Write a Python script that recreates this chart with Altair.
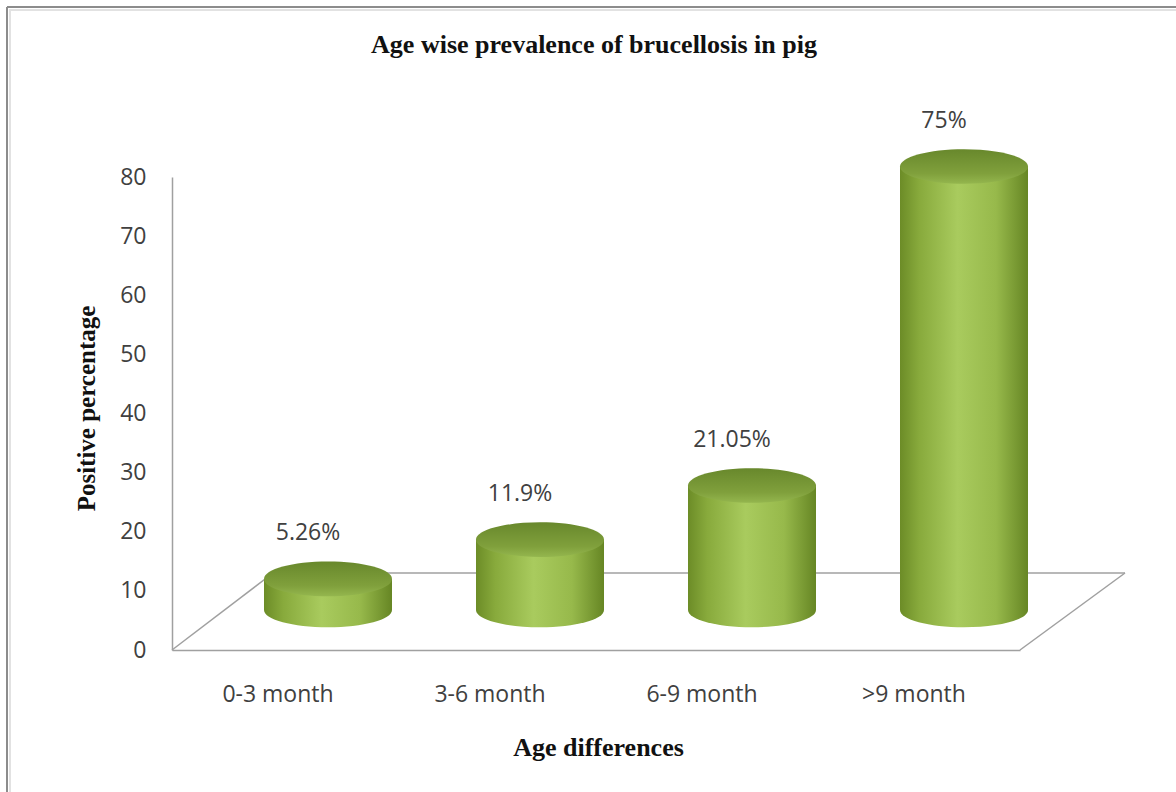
import altair as alt
import pandas as pd

# Age-wise brucellosis prevalence in pigs
age_groups = ["0-3 month", "3-6 month", "6-9 month", ">9 month"]
positive_pct = [5.26, 11.9, 21.05, 75]
pct_labels = ["5.26%", "11.9%", "21.05%", "75%"]
y_ticks = [0, 10, 20, 30, 40, 50, 60, 70, 80]
chart_title = "Age wise prevalence of brucellosis in pig"

df = pd.DataFrame({"age": age_groups, "pct": positive_pct, "label": pct_labels})

W, H = 848, 473
DEPTH_X, DEPTH_Y = 50, -40          # cylinders stand in the middle of the floor's depth
CYL_W = 128
ELLIPSE = "M -1 0 A 1 0.27 0 1 0 1 0 A 1 0.27 0 1 0 -1 0 Z"

body_fill = {
    "gradient": "linear", "x1": 0, "y1": 0, "x2": 1, "y2": 0,
    "stops": [
        {"offset": 0.0, "color": "#6c8c27"},
        {"offset": 0.15, "color": "#88aa3c"},
        {"offset": 0.45, "color": "#a9cb5e"},
        {"offset": 0.75, "color": "#97b94b"},
        {"offset": 1.0, "color": "#668624"},
    ],
}
top_fill = {
    "gradient": "linear", "x1": 0, "y1": 0, "x2": 0, "y2": 1,
    "stops": [
        {"offset": 0.0, "color": "#68882c"},
        {"offset": 0.7, "color": "#80a03c"},
        {"offset": 1.0, "color": "#94b64e"},
    ],
}

x_enc = alt.X(
    "age:N",
    sort=age_groups,
    scale=alt.Scale(paddingInner=0, paddingOuter=0),
    axis=alt.Axis(
        title="Age  differences",
        titleFont="Liberation Serif", titleFontSize=26, titleFontWeight="bold",
        titleColor="#111111", titleX=426, titleY=97, titleBaseline="middle",
        labelFont="Open Sans", labelFontSize=23, labelColor="#404040",
        labelAngle=0, labelPadding=33, ticks=False,
        domainColor="#a0a0a0", domainWidth=1.5,
    ),
)
y_scale = alt.Scale(domain=[0, 80])
y_enc = alt.Y(
    "pct:Q",
    scale=y_scale,
    axis=alt.Axis(
        title="Positive percentage", values=y_ticks,
        titleFont="Liberation Serif", titleFontSize=25, titleFontWeight="bold",
        titleColor="#111111", titleX=-86, titleY=231, titleAngle=270,
        titleBaseline="middle",
        labelFont="Open Sans", labelFontSize=23, labelColor="#404040",
        labelPadding=26, ticks=False, grid=False,
        domainColor="#a0a0a0", domainWidth=1.5,
    ),
)

base = alt.Chart(df)

bottom_caps = base.mark_point(
    shape=ELLIPSE, size=CYL_W * CYL_W, filled=True, opacity=1, strokeWidth=0,
    fill=body_fill, xOffset=DEPTH_X, yOffset=DEPTH_Y,
).encode(x=x_enc, y=alt.Y("zero:Q", scale=y_scale)).transform_calculate(zero="0")

bodies = base.mark_bar(
    size=CYL_W, fill=body_fill, xOffset=DEPTH_X, yOffset=DEPTH_Y, y2Offset=DEPTH_Y,
).encode(x=x_enc, y=y_enc)

top_caps = base.mark_point(
    shape=ELLIPSE, size=CYL_W * CYL_W, filled=True, opacity=1, strokeWidth=0,
    fill=top_fill, xOffset=DEPTH_X, yOffset=DEPTH_Y,
).encode(x=x_enc, y=alt.Y("pct:Q", scale=y_scale))

value_labels = base.mark_text(
    font="Open Sans", fontSize=23, color="#404040",
    xOffset=30, yOffset=-86,
).encode(x=x_enc, y=alt.Y("pct:Q", scale=y_scale), text="label:N")

one = pd.DataFrame({"k": [0]})

# chart title, centred over the plot
title_text = alt.Chart(one).mark_text(
    font="Liberation Serif", fontSize=26, fontWeight="bold", color="#111111",
    align="center", baseline="alphabetic",
).encode(x=alt.value(W / 2 - 2), y=alt.value(-124), text=alt.value(chart_title))

# floor of the 3-D plot: left edge, back edge, right edge
floor_style = dict(color="#a0a0a0", strokeWidth=1.5)
floor_left = alt.Chart(one).mark_rule(**floor_style).encode(
    x=alt.value(0), x2=alt.value(101), y=alt.value(H), y2=alt.value(H - 77))
floor_back = alt.Chart(one).mark_rule(**floor_style).encode(
    x=alt.value(101), x2=alt.value(953), y=alt.value(H - 77))
floor_right = alt.Chart(one).mark_rule(**floor_style).encode(
    x=alt.value(W), x2=alt.value(953), y=alt.value(H), y2=alt.value(H - 77))

# chart-area border
frame_top = alt.Chart(one).mark_rule(color="#8c8c8c", strokeWidth=2).encode(
    x=alt.value(-165), x2=alt.value(1010), y=alt.value(-170))
frame_left = alt.Chart(one).mark_rule(color="#8c8c8c", strokeWidth=2).encode(
    x=alt.value(-165), y=alt.value(-170), y2=alt.value(620))
frame_top_in = alt.Chart(one).mark_rule(color="#e2e2e2", strokeWidth=2).encode(
    x=alt.value(-163), x2=alt.value(1010), y=alt.value(-167))
frame_left_in = alt.Chart(one).mark_rule(color="#e2e2e2", strokeWidth=2).encode(
    x=alt.value(-162), y=alt.value(-168), y2=alt.value(620))

chart = alt.layer(
    frame_top, frame_left, frame_top_in, frame_left_in, title_text,
    floor_left, floor_back, floor_right,
    bottom_caps, bodies, top_caps, value_labels,
).properties(
    width=W, height=H,
    autosize=alt.AutoSizeParams(type="none"),
    padding={"left": 172, "top": 177, "right": 156, "bottom": 142},
    background="white",
).configure_view(stroke=None)

chart.save("out.html", embed_options={"renderer": "svg", "actions": False})
